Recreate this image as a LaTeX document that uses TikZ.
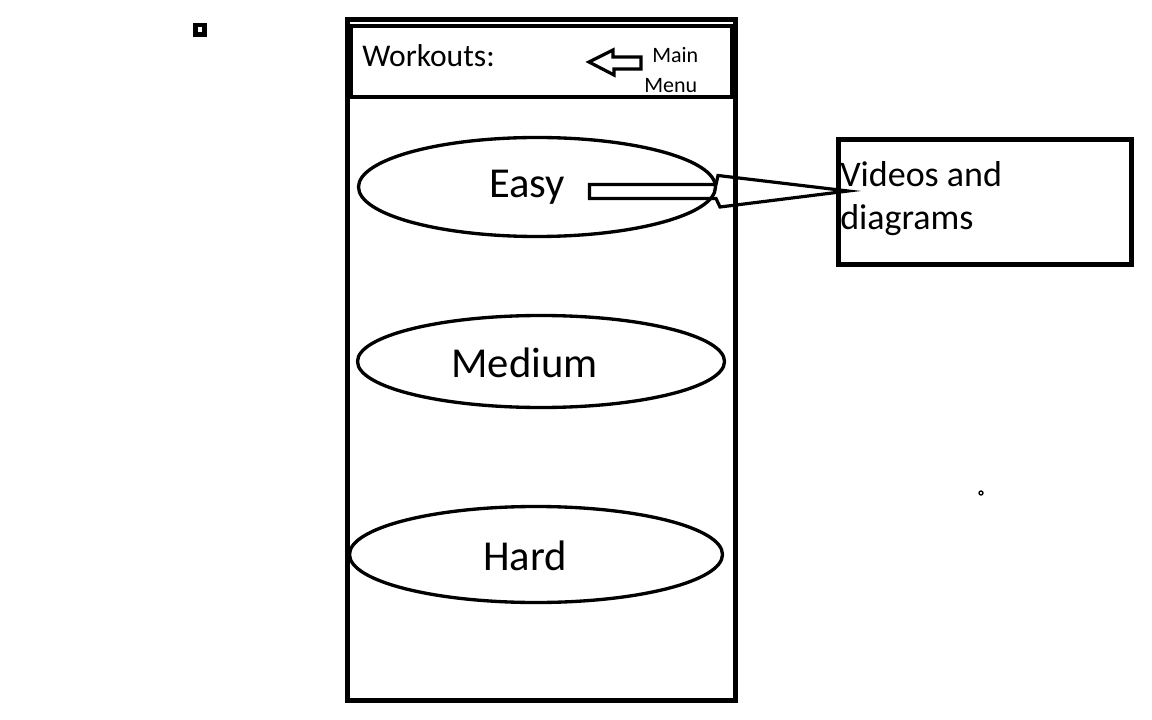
\documentclass[tikz,border=0pt]{standalone}
\usepackage{fontspec}
\setmainfont{Carlito}
\usetikzlibrary{shapes.geometric,positioning}

\begin{document}
\begin{tikzpicture}[x=0.75pt,y=-0.75pt,
    box/.style={draw,line width=3.2pt,inner sep=0pt},
    level/.style={draw,ellipse,line width=2.5pt,inner sep=0pt},
    txt/.style={inner sep=0pt,anchor=base west},
    hollow/.style={draw,line width=2.4pt,line join=miter}]
  \useasboundingbox (0,0) rectangle (1152,720);

  % stray marks
  \draw[line width=3.5pt] (195.3,25) rectangle (204.7,34.3);
  \draw[line width=1pt] (981,493) circle (2);

  % phone screen
  \node[box,minimum width=291pt,minimum height=510.75pt] (phone) at (541.5,360) {};
  \node[box,minimum width=285.75pt,minimum height=53.25pt] (header) at (541.5,61.5) {};
  \node[txt,font=\fontsize{23.7}{28}\selectfont] (title) at (362,67) {Workouts:};
  \node[txt,font=\fontsize{16.5}{20}\selectfont] (main) at (652,63) {Main};
  \node[txt,font=\fontsize{16.5}{20}\selectfont] (menu) at (644,93) {Menu};
  \draw[hollow] (589,62) -- (613,50) -- (613,57) -- (641,57) -- (641,69)
    -- (614,69) -- (614,75) -- cycle;

  % difficulty levels
  \node[level,minimum width=267.75pt,minimum height=74.25pt] (easy) at (537,187) {};
  \node[level,minimum width=275.25pt,minimum height=69pt] (medium) at (541,361.5) {};
  \node[level,minimum width=279.75pt,minimum height=72pt] (hard) at (536,554.5) {};
  \node[txt,font=\fontsize{32}{38}\selectfont] (easylbl) at (489,198) {Easy};
  \node[txt,font=\fontsize{32}{38}\selectfont] (mediumlbl) at (451,377) {Medium};
  \node[txt,font=\fontsize{32}{38}\selectfont] (hardlbl) at (483,570) {Hard};

  % videos box
  \node[box,minimum width=219.75pt,minimum height=93.75pt] (videos) at (985,202) {};
  \node[txt,font=\fontsize{27}{32.25}\selectfont] (vid1) at (840,187) {Videos and};
  \node[txt,font=\fontsize{27}{32.25}\selectfont] (vid2) at (840,230) {diagrams};

  \coordinate (tip) at (848,191);
  \draw[hollow] (589.5,184.5) -- (716,184.5) -- (718,175.5) -- (tip)
    -- (720,207) -- (716,198.5) -- (589.5,198.5) -- cycle;
\end{tikzpicture}
\end{document}
